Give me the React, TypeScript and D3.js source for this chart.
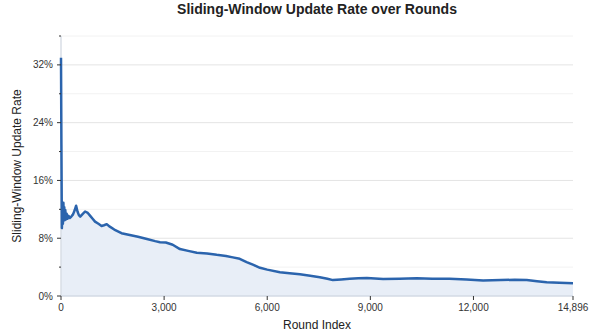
import React from "react";
import * as d3 from "d3";

const rounds = [0, 12, 25, 40, 55, 70, 80, 95, 110, 125, 145, 165, 190, 220, 260, 300, 350, 400, 440, 480, 520, 560, 620, 700, 780, 850, 920, 990, 1090, 1180, 1250, 1330, 1420, 1550, 1760, 2000, 2240, 2500, 2740, 2880, 3050, 3250, 3460, 3700, 3950, 4250, 4530, 4800, 5000, 5200, 5400, 5600, 5790, 6000, 6370, 6650, 6950, 7250, 7530, 7750, 7910, 8150, 8400, 8650, 8900, 9370, 9850, 10350, 10800, 11300, 11800, 12280, 12800, 13200, 13550, 13850, 14130, 14500, 14896];
const rates = [33.0, 21.0, 9.4, 11.2, 10.0, 12.9, 11.0, 12.3, 10.5, 11.9, 10.6, 11.4, 10.7, 11.1, 10.8, 11.0, 11.3, 11.9, 12.5, 11.7, 11.2, 11.0, 11.3, 11.7, 11.5, 11.1, 10.7, 10.3, 10.0, 9.7, 9.8, 9.95, 9.6, 9.2, 8.7, 8.45, 8.2, 7.9, 7.6, 7.45, 7.4, 7.1, 6.5, 6.25, 6.0, 5.9, 5.7, 5.55, 5.35, 5.15, 4.7, 4.3, 3.9, 3.65, 3.3, 3.15, 3.0, 2.8, 2.6, 2.4, 2.2, 2.3, 2.4, 2.45, 2.5, 2.35, 2.4, 2.45, 2.4, 2.4, 2.3, 2.15, 2.2, 2.25, 2.2, 2.05, 1.9, 1.85, 1.75];

const yMajorTicks = [0, 8, 16, 24, 32];
const yMinorTicks = [4, 12, 20, 28, 36];
const xTicks = [0, 3000, 6000, 9000, 12000, 14896];

const W = 594;
const H = 336;
const M = { left: 61, right: 21, top: 36, bottom: 40 };
const FONT = "'Liberation Sans', Arial, Helvetica, sans-serif";

export default function App() {
  const x = d3.scaleLinear().domain([0, 14896]).range([M.left, W - M.right]);
  const y = d3.scaleLinear().domain([0, 36]).range([H - M.bottom, M.top]);
  const data = rounds.map((r, i) => ({ r, v: rates[i] }));
  const line = d3.line<{ r: number; v: number }>().x(d => x(d.r)).y(d => y(d.v));
  const area = d3.area<{ r: number; v: number }>().x(d => x(d.r)).y0(y(0)).y1(d => y(d.v));
  const fmt = d3.format(",");
  const x0 = M.left;
  const x1 = W - M.right;
  return (
    <svg width={W} height={H} style={{ position: "absolute", left: 0, top: 0, background: "#fff" }} fontFamily={FONT}>
      <text x={(x0 + x1) / 2} y={14} textAnchor="middle" fontSize={14} fontWeight="bold" fill="#222">Sliding-Window Update Rate over Rounds</text>
      {yMinorTicks.map(t => (
        <line key={"mi" + t} x1={x0} x2={x1} y1={y(t)} y2={y(t)} stroke="#f2f2f2" strokeWidth={1} />
      ))}
      {yMajorTicks.filter(t => t > 0).map(t => (
        <line key={"ma" + t} x1={x0} x2={x1} y1={y(t)} y2={y(t)} stroke="#e4e4e4" strokeWidth={1} />
      ))}
      <path d={area(data) || ""} fill="#e8eef7" />
      <line x1={x0} x2={x0} y1={M.top} y2={y(0)} stroke="#d9dee6" strokeWidth={1.5} />
      <line x1={x0} x2={x1} y1={y(0)} y2={y(0)} stroke="#d3dae4" strokeWidth={1.5} />
      <path d={line(data) || ""} fill="none" stroke="#2b64ad" strokeWidth={2.5} strokeLinejoin="round" />
      {yMajorTicks.map(t => (
        <g key={"yt" + t}>
          <line x1={x0 - 4} x2={x0} y1={y(t)} y2={y(t)} stroke="#333" strokeWidth={1} />
          <text x={x0 - 8} y={y(t)} dy="0.35em" textAnchor="end" fontSize={10} fill="#333">{t + "%"}</text>
        </g>
      ))}
      {yMinorTicks.map(t => (
        <line key={"ymt" + t} x1={x0 - 2} x2={x0} y1={y(t)} y2={y(t)} stroke="#333" strokeWidth={1} />
      ))}
      {xTicks.map(t => (
        <g key={"xt" + t}>
          <line x1={x(t)} x2={x(t)} y1={y(0)} y2={y(0) + 4} stroke="#333" strokeWidth={1} />
          <text x={x(t)} y={y(0) + 15} textAnchor="middle" fontSize={10} fill="#333">{fmt(t)}</text>
        </g>
      ))}
      <text x={(x0 + x1) / 2} y={329} textAnchor="middle" fontSize={12} fill="#222">Round Index</text>
      <text transform={`translate(21,${(M.top + y(0)) / 2}) rotate(-90)`} textAnchor="middle" fontSize={12} fill="#222">Sliding-Window Update Rate</text>
    </svg>
  );
}
